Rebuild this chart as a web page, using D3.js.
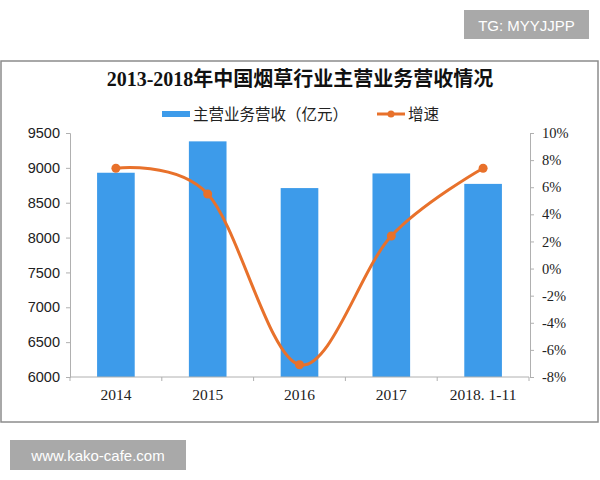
<!DOCTYPE html>
<html><head><meta charset="utf-8">
<script src="https://cdn.jsdelivr.net/npm/d3@7"></script>
<style>body{margin:0;background:#fff}svg{display:block}</style>
</head><body>
<svg id="c" width="600" height="480"></svg>
<script>
const categories = ["2014", "2015", "2016", "2017", "2018. 1-11"];
const revenue = [8930, 9380, 8710, 8920, 8770];
const growth = [7.4, 5.5, -7.1, 2.4, 7.4];
const leftTicks = [6000, 6500, 7000, 7500, 8000, 8500, 9000, 9500];
const rightTicks = [-8, -6, -4, -2, 0, 2, 4, 6, 8, 10];
const title = "2013-2018年中国烟草行业主营业务营收情况";
const legendBar = "主营业务营收（亿元）";
const legendLine = "增速";

const svg = d3.select("#c");
const BLUE = "#3D9BEA", ORANGE = "#E8712B", AX = "#B0B0B0";
const serif = "'Liberation Serif','Noto Sans CJK SC',serif";
const cjk = "'Noto Sans CJK SC',sans-serif";

// watermark boxes
svg.append("rect").attr("x",464).attr("y",10).attr("width",125).attr("height",29).attr("fill","#A9A9A9");
svg.append("text").attr("x",526.5).attr("y",31).attr("text-anchor","middle").attr("fill","#fff")
  .attr("font-family","'Liberation Sans',Arial,sans-serif").attr("font-size",15).text("TG: MYYJJPP");
svg.append("rect").attr("x",10).attr("y",440).attr("width",176).attr("height",30).attr("fill","#A9A9A9");
svg.append("text").attr("x",98).attr("y",461).attr("text-anchor","middle").attr("fill","#fff")
  .attr("font-family","'Liberation Sans',Arial,sans-serif").attr("font-size",15).text("www.kako-cafe.com");

// frame
svg.append("rect").attr("x",1).attr("y",61).attr("width",597).attr("height",361)
  .attr("fill","#fff").attr("stroke","#8C8C8C").attr("stroke-width",1.5);

// title
svg.append("text").attr("x",300).attr("y",86).attr("text-anchor","middle")
  .attr("font-family",serif).attr("font-weight","bold").attr("font-size",20).attr("fill","#111").text(title);

// legend
svg.append("rect").attr("x",162).attr("y",111).attr("width",28).attr("height",6).attr("fill",BLUE);
svg.append("text").attr("x",193).attr("y",120).attr("font-family",cjk).attr("font-size",15.5).attr("fill","#222").text(legendBar);
svg.append("line").attr("x1",377).attr("x2",405).attr("y1",114).attr("y2",114).attr("stroke",ORANGE).attr("stroke-width",3);
svg.append("circle").attr("cx",391).attr("cy",114).attr("r",3.5).attr("fill",ORANGE);
svg.append("text").attr("x",408).attr("y",120).attr("font-family",cjk).attr("font-size",15.5).attr("fill","#222").text(legendLine);

const L = 70, R = 529, T = 133, B = 377;
const x = d3.scaleBand().domain(categories).range([L, R]).paddingInner(0.59).paddingOuter(0.295);
const xp = d3.scalePoint().domain(categories).range([L, R]).padding(0.5);
const yL = d3.scaleLinear().domain([6000, 9500]).range([B, T]);
const yR = d3.scaleLinear().domain([-8, 10]).range([B, T]);

// bars
svg.append("g").selectAll("rect").data(categories).join("rect")
  .attr("x", d => x(d)).attr("width", x.bandwidth())
  .attr("y", (d,i) => yL(revenue[i])).attr("height", (d,i) => B - yL(revenue[i]))
  .attr("fill", BLUE);

// left axis
const gL = svg.append("g").attr("transform",`translate(${L},0)`)
  .call(d3.axisLeft(yL).tickValues(leftTicks).tickSize(4).tickPadding(6).tickFormat(d3.format("d")));
gL.selectAll("text").attr("font-family","'Liberation Sans',Arial,sans-serif").attr("font-size",14.5).attr("fill","#222");
// right axis
const gR = svg.append("g").attr("transform",`translate(${R+1},0)`)
  .call(d3.axisRight(yR).tickValues(rightTicks).tickSize(4).tickPadding(8).tickFormat(d => d + "%"));
gR.selectAll("text").attr("font-family",serif).attr("font-size",14.5).attr("fill","#222");
// bottom axis
const tickXs = d3.range(categories.length + 1).map(i => L + i * (R - L) / categories.length);
const gB = svg.append("g").attr("transform",`translate(0,${B})`)
  .call(d3.axisBottom(x).tickSize(0).tickPadding(12));
gB.selectAll("text").attr("font-family",serif).attr("font-size",15.5).attr("fill","#222");
gB.selectAll(".bt").data(tickXs).join("line").attr("class","bt")
  .attr("x1",d=>d).attr("x2",d=>d).attr("y1",0).attr("y2",4).attr("stroke",AX);
[gL,gR,gB].forEach(g => { g.select(".domain").attr("stroke",AX); g.selectAll(".tick line").attr("stroke",AX); });
gB.select(".domain").attr("d",`M${L},0H${R}`);

// line
const line = d3.line().x((d,i) => xp(categories[i])).y(d => yR(d)).curve(d3.curveCardinal.tension(0));
svg.append("path").datum(growth).attr("d", line).attr("fill","none").attr("stroke",ORANGE).attr("stroke-width",3);
svg.append("g").selectAll("circle").data(growth).join("circle")
  .attr("cx",(d,i)=>xp(categories[i])).attr("cy",d=>yR(d)).attr("r",4.5).attr("fill",ORANGE);
</script>
</body></html>
